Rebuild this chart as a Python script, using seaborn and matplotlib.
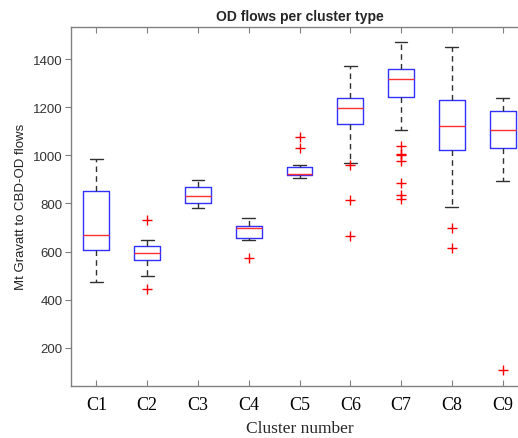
import numpy as np
import pandas as pd
import matplotlib
matplotlib.use("Agg")
import matplotlib.pyplot as plt
import seaborn as sns

clusters = ["C1", "C2", "C3", "C4", "C5", "C6", "C7", "C8", "C9"]
whisker_low = [473, 496, 783, 647, 908, 969, 1108, 787, 892]
q1 = [605, 565, 804, 658, 917, 1130, 1244, 1022, 1030]
median = [668, 592, 830, 696, 923, 1198, 1317, 1122, 1105]
q3 = [854, 623, 869, 707, 954, 1240, 1361, 1229, 1186]
whisker_high = [985, 650, 898, 740, 961, 1371, 1471, 1451, 1240]
outliers = {
    "C1": [],
    "C2": [730, 446],
    "C3": [],
    "C4": [575],
    "C5": [1077, 1030],
    "C6": [962, 814, 664],
    "C7": [1040, 1008, 1002, 979, 885, 835, 819],
    "C8": [696, 614],
    "C9": [107],
}

rows = []
for i, c in enumerate(clusters):
    for v in (whisker_low[i], q1[i], median[i], q3[i], whisker_high[i]):
        rows.append({"cluster": c, "flow": v})
box_df = pd.DataFrame(rows)
out_df = pd.DataFrame([{"cluster": c, "flow": v} for c in clusters for v in outliers[c]])

sns.set_style("white")
plt.rcParams["font.family"] = ["Liberation Sans", "DejaVu Sans"]

fig = plt.figure(figsize=(5.18, 4.39), dpi=100)
ax = fig.add_axes([71 / 518, 1 - 387 / 439, (528 - 71) / 518, (387 - 27.5) / 439])

sns.boxplot(
    data=box_df, x="cluster", y="flow", order=clusters, ax=ax,
    whis=(0, 100), width=0.51, fill=False, showfliers=False,
    color="blue", linewidth=1.0,
    boxprops=dict(color="#3030ff", linewidth=1.0),
    medianprops=dict(color="#ff3030", linewidth=1.0),
    whiskerprops=dict(color="#303030", linewidth=1.0, linestyle=(0, (4, 3))),
    capprops=dict(color="#303030", linewidth=1.0),
    capwidths=0.25,
)
sns.stripplot(
    data=out_df, x="cluster", y="flow", order=clusters, ax=ax,
    jitter=False, marker="+", color="red", size=7, linewidth=1.0,
)

ax.set_xlim(-0.5, 8.5)
ax.set_ylim(40, 1537)
ax.set_yticks([200, 400, 600, 800, 1000, 1200, 1400])
ax.set_xticks(range(len(clusters)))
ax.set_xticklabels(clusters, family=["Liberation Serif"], fontsize=13, color="black")
for lab in ax.get_yticklabels():
    lab.set_fontsize(9.5)
    lab.set_color("#333333")

ax.set_title("OD flows per cluster type", fontsize=10, fontweight="bold", pad=5)
ax.set_xlabel("Cluster number", family=["Liberation Serif"], fontsize=12.5, labelpad=5)
ax.set_ylabel("Mt Gravatt to CBD-OD flows", fontsize=9.5, color="#222222", labelpad=4)

for s in ax.spines.values():
    s.set_color("#808080")
    s.set_linewidth(1.0)
ax.tick_params(axis="x", which="both", direction="in", length=4, color="#808080",
               top=True, bottom=True, pad=7)
ax.tick_params(axis="y", which="both", direction="out", length=4, color="#808080",
               left=True, pad=2)

fig.savefig("out.png", dpi=100)
